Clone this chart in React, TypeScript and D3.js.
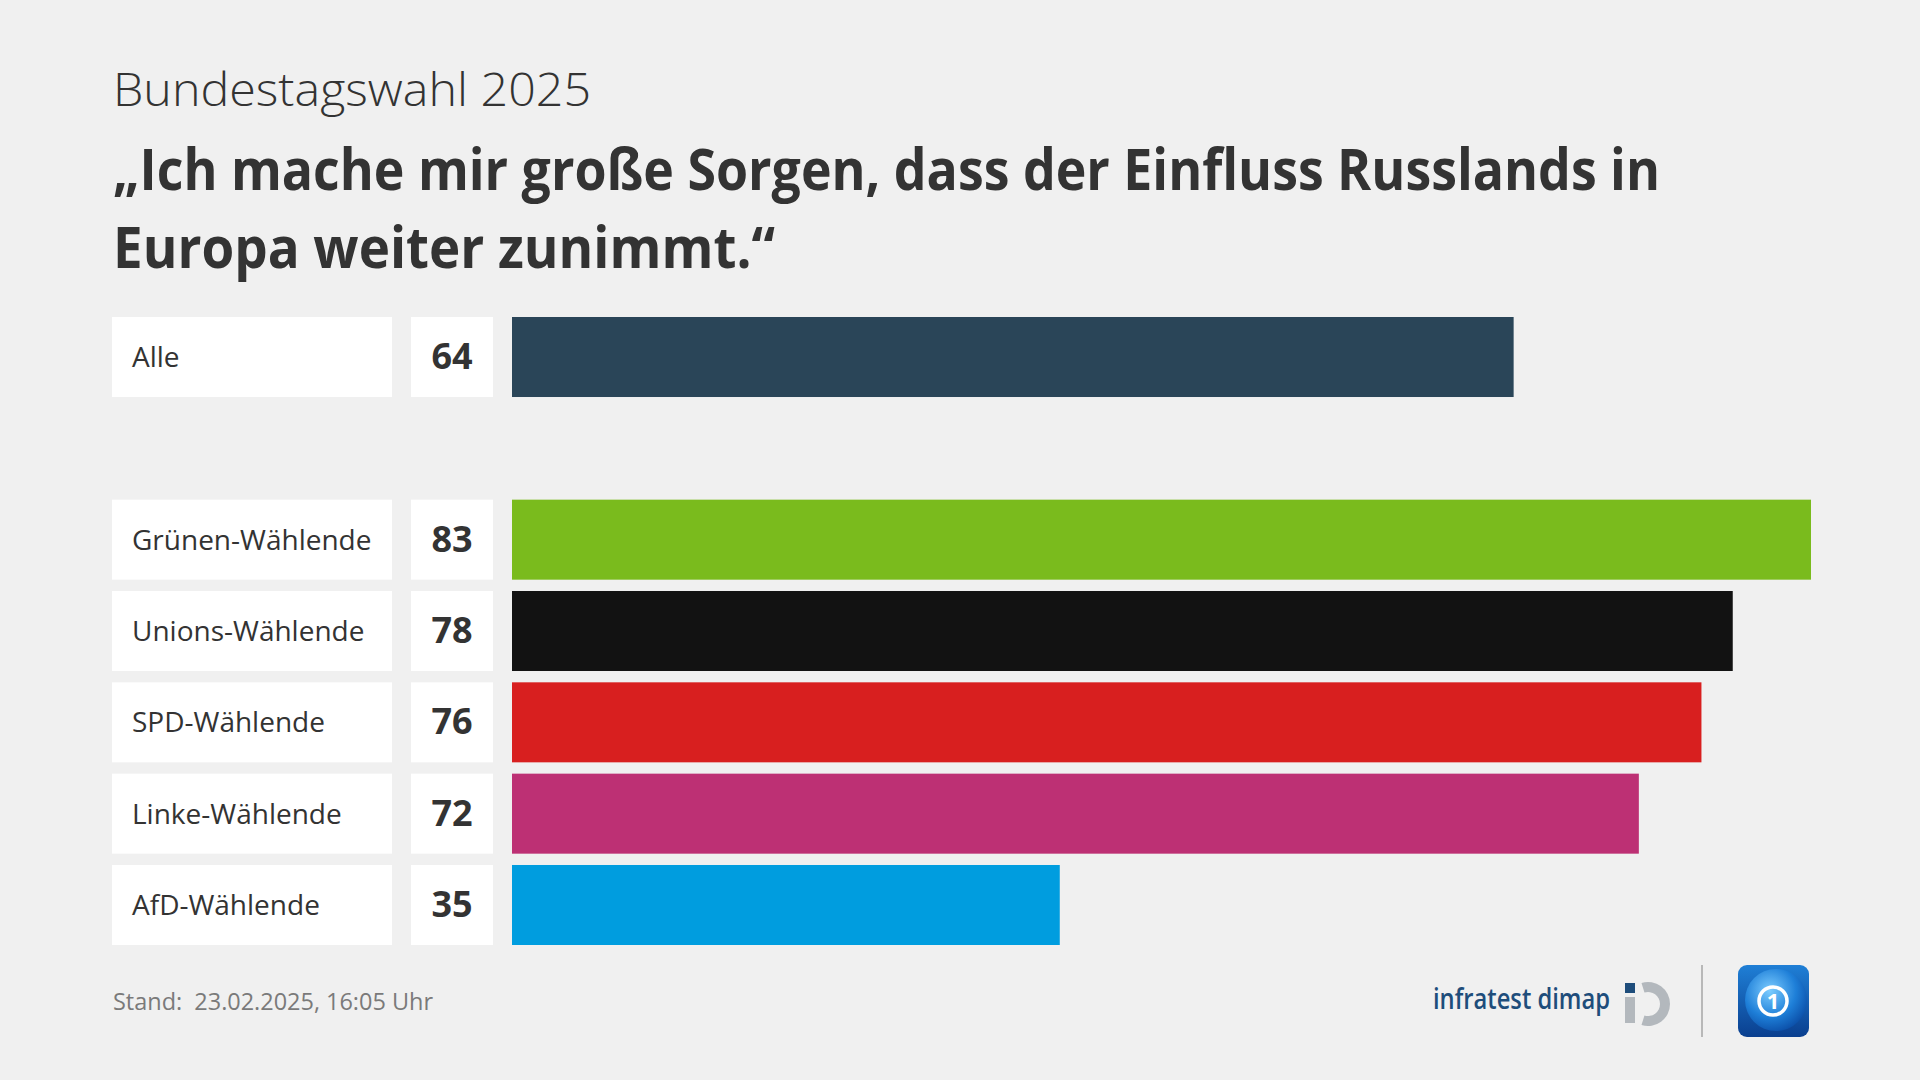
import React from "react";
import * as d3 from "d3";

const categories = ["Alle", "", "Grünen-Wählende", "Unions-Wählende", "SPD-Wählende", "Linke-Wählende", "AfD-Wählende"];
const values = [64, null, 83, 78, 76, 72, 35];
const barColors = ["#2a4558", "none", "#7abb1d", "#121212", "#d81f1f", "#bd3074", "#009ddf"];
const subtitle = "Bundestagswahl 2025";
const titleLines = ["„Ich mache mir große Sorgen, dass der Einfluss Russlands in", "Europa weiter zunimmt.“"];
const footerText = "Stand:  23.02.2025, 16:05 Uhr";

const W = 1920;
const H = 1080;
const FONT = "'Open Sans', 'DejaVu Sans', sans-serif";

export default function App() {
  const keys = categories.map((_, i) => String(i));
  const y = d3.scaleBand<string>().domain(keys).range([317, 945]).paddingInner(0.124).paddingOuter(0);
  const x = d3.scaleLinear().domain([0, 83]).range([512, 1811]);
  const bw = y.bandwidth();

  const arcGen = d3.arc();
  const idArc = arcGen({ innerRadius: 12, outerRadius: 22, startAngle: -0.3, endAngle: Math.PI + 0.3 }) as string;

  return (
    <svg width={W} height={H} style={{ position: "absolute", left: 0, top: 0, display: "block" }}>
      <defs>
        <linearGradient id="tsbg" x1="0" y1="0" x2="0" y2="1">
          <stop offset="0" stopColor="#1f7fd6" />
          <stop offset="1" stopColor="#0a3f8f" />
        </linearGradient>
        <radialGradient id="globe" cx="0.4" cy="0.35" r="0.7">
          <stop offset="0" stopColor="#7cccff" />
          <stop offset="0.6" stopColor="#1e7fd8" />
          <stop offset="1" stopColor="#0b4da6" />
        </radialGradient>
      </defs>
      <rect x={0} y={0} width={W} height={H} fill="#f0f0f0" />

      <text x={113} y={106} fontFamily={FONT} fontWeight={300} fontSize={46} fill="#333" textLength={478} lengthAdjust="spacingAndGlyphs">
        {subtitle}
      </text>
      <text x={113} y={190} fontFamily={FONT} fontWeight={700} fontSize={58} fill="#333" textLength={1547} lengthAdjust="spacingAndGlyphs">
        {titleLines[0]}
      </text>
      <text x={113} y={268} fontFamily={FONT} fontWeight={700} fontSize={58} fill="#333" textLength={662} lengthAdjust="spacingAndGlyphs">
        {titleLines[1]}
      </text>

      {categories.map((c, i) => {
        const v = values[i];
        if (v === null) return null;
        const top = y(String(i)) as number;
        return (
          <g key={c}>
            <rect x={112} y={top} width={280} height={bw} fill="#ffffff" />
            <rect x={411} y={top} width={82} height={bw} fill="#ffffff" />
            <rect x={x(0)} y={top} width={x(v) - x(0)} height={bw} fill={barColors[i]} />
            <text x={132} y={top + 50} fontFamily={FONT} fontSize={28} fill="#333">
              {c}
            </text>
            <text x={452} y={top + 52} textAnchor="middle" fontFamily={FONT} fontWeight={700} fontSize={36} fill="#333">
              {v}
            </text>
          </g>
        );
      })}

      <text x={113} y={1010} fontFamily={FONT} fontSize={24} fill="#7a7a7a" textLength={320} lengthAdjust="spacingAndGlyphs" xmlSpace="preserve">
        {footerText}
      </text>

      <text x={1433} y={1009} fontFamily={FONT} fontWeight={600} fontSize={28} fill="#1e4d7b" textLength={177} lengthAdjust="spacingAndGlyphs">
        infratest dimap
      </text>
      <rect x={1625} y={983} width={10} height={10} fill="#1e4d7b" />
      <rect x={1625} y={997} width={10} height={26} fill="#b3b8bd" />
      <path d={idArc} transform="translate(1648,1004)" fill="#b3b8bd" />

      <line x1={1702} x2={1702} y1={965} y2={1037} stroke="#b8b8b8" strokeWidth={2} />

      <rect x={1738} y={965} width={71} height={72} rx={9} fill="url(#tsbg)" />
      <circle cx={1776} cy={1000} r={31} fill="url(#globe)" />
      <circle cx={1773} cy={1001} r={14} fill="none" stroke="#ffffff" strokeWidth={3.5} />
      <text x={1773} y={1009} textAnchor="middle" fontFamily={FONT} fontWeight={700} fontSize={22} fill="#ffffff">
        1
      </text>
    </svg>
  );
}
